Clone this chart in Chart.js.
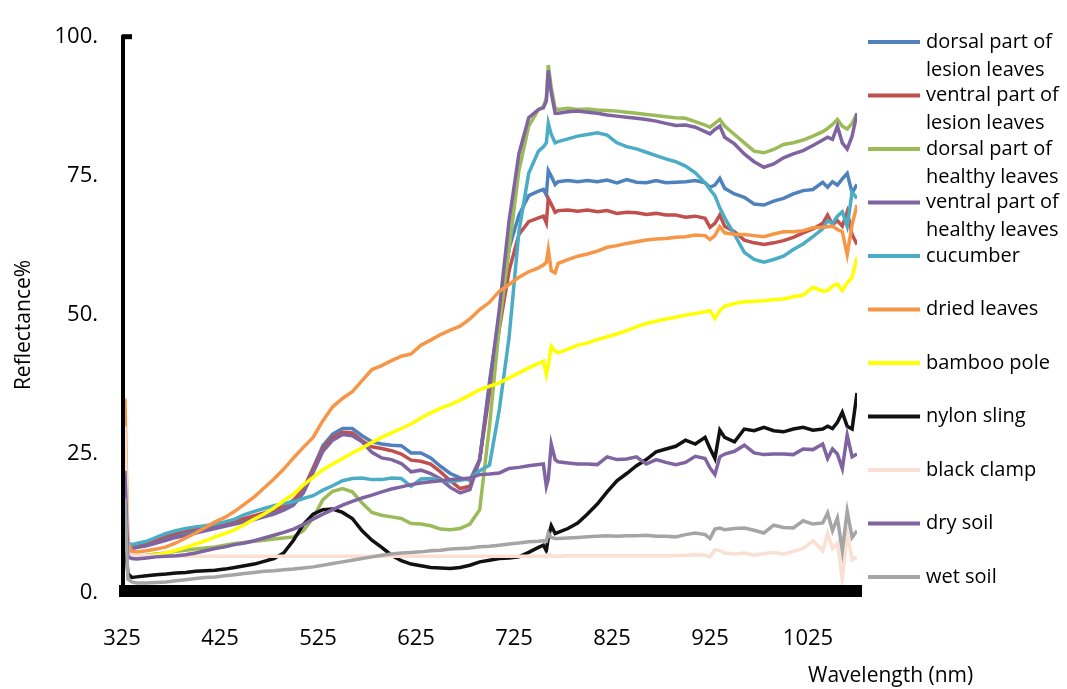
<!DOCTYPE html>
<html>
<head>
<meta charset="utf-8">
<script src="https://cdn.jsdelivr.net/npm/chart.js@4.4.1/dist/chart.umd.min.js"></script>
<style>
html,body{margin:0;padding:0;background:#fff;}
#wrap{width:1067px;height:689px;position:relative;}
</style>
</head>
<body>
<div id="wrap"><canvas id="c" width="1067" height="689"></canvas></div>
<script>
// Wavelengths (nm)
const wavelengths = [325,328,331,335,340,
 350,360,370,380,390,400,410,420,430,440,450,
 460,470,480,490,500,510,520,530,540,550,
 560,570,580,590,600,610,620,630,640,650,
 660,670,680,690,700,710,720,730,740,750,
 755,758,760,763,767,770,
 780,790,800,810,820,830,840,850,860,870,
 880,890,900,910,920,925,930,935,940,
 950,960,970,980,990,1000,1010,1020,1030,1040,
 1045,1050,1055,1060,1065,1070,1075];

const xTicks = [325,425,525,625,725,825,925,1025];
const yTicks = [0,25,50,75,100];

const dorsalLesion = [12,18,9,8.5,8.6,
 9,9.5,10,10.5,11,11.3,11.6,12,12.3,12.7,13.2,
 13.7,14.2,14.8,15.5,16.5,18.5,22.5,26.5,28.6,29.6,
 29.6,28.3,27.2,26.8,26.6,26.5,25.2,25.2,24.3,22.8,
 21.5,20.7,20.3,24,38,50,62,68,71.5,72.3,
 72.6,71.6,76,75,73.5,74,
 74.2,74,74.2,74,74.3,73.8,74.4,73.9,73.8,74.2,
 73.8,73.9,74,74.2,73.8,73,73.4,74.6,72.8,
 71.8,71.2,70,69.8,70.5,71,71.8,72.4,72.6,73.9,
 73,74,73.4,74.5,75.5,72,73.5];

const ventralLesion = [10,16,8.8,8.3,8.5,
 9,9.6,10.3,10.8,11.3,11.7,12,12.3,12.6,13,13.4,
 13.9,14.4,15,15.7,16.7,18.6,22.3,26,28,28.9,
 28.8,27.4,26.3,26,25.6,25,23.9,23.7,23.2,21.8,
 20.2,18.8,19.2,24,36,47.5,58,64.5,66.8,67.5,
 67.8,66.6,71,70,68.5,68.8,
 68.9,68.7,68.9,68.6,68.8,68.3,68.5,68.4,68.1,68.3,
 68,68,67.6,67.8,67.4,65.8,66.5,68,66,
 65,63.5,63,62.7,63,63.4,64,64.8,65.5,66.5,
 68,66.3,67,66,68.6,64.5,62.7];

const dorsalHealthy = [9,14,7,6.5,6.7,
 6.8,7,7.2,7.5,7.7,7.9,8.1,8.3,8.6,8.9,9.1,
 9.3,9.5,9.7,9.9,10.1,11.2,13.5,16.8,18.3,18.8,
 18.2,16.2,14.5,14,13.7,13.4,12.5,12.4,12.1,11.5,
 11.4,11.6,12.4,15,30,48,62,76,84,87,
 87.5,89,95,91,87.2,87,
 87.2,87,87.1,86.9,86.8,86.7,86.5,86.3,86.1,85.9,
 85.7,85.5,85.4,84.8,84.2,83.8,84.5,85.2,84,
 82.5,81,79.5,79.2,79.8,80.7,81,81.5,82.2,83,
 83.6,84.3,85.2,84,83.5,84.5,86.3];

const ventralHealthy = [10,17,8.4,8,8.2,
 8.5,9,9.5,10,10.4,10.8,11.2,11.6,12,12.4,12.8,
 13.2,13.7,14.2,14.9,15.8,18,21.7,25.5,27.5,28.5,
 28.3,27.2,25.3,24.3,24,23.3,21.8,22.1,21.5,20.5,
 19,18,18.6,24,37.3,51,67,79,85.5,87,
 87.3,88.5,94,90,86.3,86.3,
 86.6,86.7,86.5,86.3,86,85.8,85.6,85.4,85.2,84.9,
 84.5,84.1,84.2,83.8,83,82.6,83.4,84,82,
 80.8,79,77.6,76.6,77.2,78.3,79,79.6,80.5,81.5,
 82,81.6,84,81,79.9,82.2,86.3];

const cucumber = [10,15,9,8.7,8.9,
 9.3,10,10.7,11.2,11.6,11.9,12.1,12.4,12.8,13.3,14.1,
 14.7,15.2,15.7,16.1,16.4,17,17.5,18.5,19.3,20.2,
 20.6,20.7,20.4,20.4,20.7,20.6,19.2,20.5,20.6,20.3,
 20,20.3,20.6,22,23,33,46,65,75.5,79.5,
 80.3,81,84.5,82.5,81,81.2,
 81.7,82.2,82.5,82.8,82.4,81,80.3,79.9,79.3,78.7,
 78.1,77.6,76.8,75.6,73.8,72.6,71.5,69.3,67.5,
 64.5,61.3,60,59.5,60,60.6,61.8,62.8,64.1,65.5,
 67,66.5,67.8,68.6,66,72.1,71];

const driedLeaves = [15,35,9,7.5,7.4,
 7.6,7.9,8.3,9,9.9,10.8,11.8,12.8,13.6,14.7,16,
 17.3,18.9,20.5,22.3,24.3,26.2,28,31,33.5,35,
 36.2,38.2,40.2,40.9,41.8,42.6,43,44.6,45.5,46.5,
 47.3,48,49.3,51,52.3,54.3,55.5,56.8,57.8,58.5,
 59,59.5,61.8,58,57.6,59.3,
 60,60.6,61,61.5,62.2,62.5,62.9,63.2,63.5,63.7,
 63.8,64,64.1,64.4,64.3,63.6,64.3,65.9,64.8,
 64.5,64.5,64.3,64.1,64.6,65,65,65.2,65.7,65.8,
 65.9,66,65.4,65,60.9,66.3,69.8];

const bambooPole = [8,14,6.8,6.4,6.5,
 6.7,6.9,7.2,7.7,8.2,8.8,9.4,10.1,10.7,11.4,12.3,
 13.3,14.2,15.3,16.6,17.8,19.4,20.8,22.2,23.2,24.2,
 25.2,26.1,27.1,28,28.8,29.6,30.4,31.5,32.4,33.2,
 33.9,34.7,35.6,36.6,37.2,37.8,38.7,39.6,40.5,41.3,
 41.7,39.3,41,44.4,43.5,43.2,
 43.9,44.6,45,45.6,46.1,46.6,47.2,47.9,48.5,48.9,
 49.3,49.6,50,50.3,50.6,50.8,49.4,50.8,51.6,
 52.1,52.4,52.5,52.6,52.8,52.9,53.3,53.6,55,54.3,
 54.4,55.2,55.6,54.4,55.8,56.8,60.4];

const nylonSling = [45,10,3.5,2.8,2.9,
 3.1,3.3,3.4,3.6,3.7,3.9,4,4.1,4.3,4.6,4.9,
 5.2,5.7,6.2,7.2,9.5,12.3,14.2,15,15.1,14.5,
 13.4,11.2,9.5,8.2,6.8,5.8,5.2,4.9,4.6,4.5,
 4.4,4.6,5,5.6,5.9,6.2,6.3,6.5,7.3,8.2,
 8.6,7.6,10,12.1,10.7,10.9,
 11.6,12.6,14.2,16,18.2,20.2,21.5,22.9,24,25.4,
 25.9,26.4,27.5,26.8,28,26,24.2,29.3,28,
 27.2,29.5,29.2,29.8,29.2,29,29.5,29.8,29.3,29.5,
 30,29.6,30.7,32.5,30,29.5,36];

const blackClamp = [15,30,7,6.8,6.7,
 6.7,6.6,6.6,6.6,6.6,6.6,6.6,6.6,6.6,6.6,6.6,
 6.6,6.6,6.6,6.6,6.6,6.6,6.6,6.6,6.6,6.6,
 6.6,6.6,6.6,6.6,6.6,6.6,6.6,6.6,6.6,6.6,
 6.6,6.6,6.6,6.6,6.6,6.6,6.6,6.6,6.6,6.6,
 6.6,6.5,7,6.6,6.6,6.6,
 6.7,6.7,6.7,6.7,6.7,6.7,6.7,6.7,6.7,6.7,
 6.7,6.7,6.8,6.9,6.8,6.5,7.8,7.6,7.2,
 7,7.2,6.8,7.1,7.3,7,7.5,8,9.4,7.6,
 10.7,8,9,2.5,10.7,6,6.4];

const drySoil = [12,22,6.5,6.2,6.1,
 6.3,6.5,6.6,6.7,6.9,7.2,7.6,8,8.3,8.7,9,
 9.4,9.9,10.4,10.9,11.5,12.3,13.3,14.2,15,15.8,
 16.5,17.1,17.6,18.2,18.7,19.1,19.5,19.8,20,20.2,
 20.4,20.5,20.7,21.3,21.4,21.6,22.4,22.6,22.9,23.1,
 23.2,19.2,20.5,26.8,24,23.6,
 23.4,23.2,23.2,23.1,24.5,24,24.1,24.5,23.2,24,
 23.5,23.1,23.5,24.6,24.2,22.5,21.3,24.5,25,
 25.5,26.6,25.2,24.9,25,25,24.9,25.9,25.8,26.8,
 24.2,25.9,25,22.4,28.4,24.5,25];

const wetSoil = [10,17,2.5,2,1.8,
 1.8,1.9,2,2.2,2.4,2.6,2.8,2.9,3.1,3.3,3.5,
 3.7,3.9,4,4.2,4.3,4.5,4.7,5,5.3,5.6,
 5.9,6.2,6.5,6.8,7,7.2,7.3,7.4,7.6,7.7,
 7.9,8,8.1,8.3,8.4,8.6,8.8,9,9.2,9.3,
 9.4,9.3,10.8,10,9.8,9.8,
 9.9,10,10.1,10.2,10.3,10.2,10.3,10.3,10.4,10.2,
 10.2,10.1,10.5,10.8,10.5,9.8,11.5,11.7,11.4,
 11.6,11.7,11.3,10.8,12.2,11.8,11.7,13,12.4,12.6,
 14.4,11.2,13.5,7.6,14.7,10,11.2];

const seriesNames = [
 ["dorsal part of","lesion leaves"],
 ["ventral part of","lesion leaves"],
 ["dorsal part of","healthy leaves"],
 ["ventral part of","healthy leaves"],
 ["cucumber"],
 ["dried leaves"],
 ["bamboo pole"],
 ["nylon sling"],
 ["black clamp"],
 ["dry soil"],
 ["wet soil"]
];
const seriesValues = [dorsalLesion, ventralLesion, dorsalHealthy, ventralHealthy, cucumber,
  driedLeaves, bambooPole, nylonSling, blackClamp, drySoil, wetSoil];
const seriesColors = ["#4F81BD","#C0504D","#9BBB59","#8064A2","#4BACC6",
  "#F79646","#FFFF00","#111111","#FADFD3","#8064A2","#A5A5A5"];

const FONT = "'Open Sans', 'Liberation Sans', sans-serif";

const datasets = seriesValues.map((vals, i) => ({
  label: seriesNames[i].join(' '),
  data: wavelengths.map((w, j) => ({x: w, y: vals[j]})),
  borderColor: seriesColors[i],
  backgroundColor: seriesColors[i],
  borderWidth: 3.5,
  pointRadius: 0,
  tension: 0,
  fill: false,
  order: seriesValues.length - i
}));

const decorations = {
  id: 'decorations',
  afterDatasetsDraw(chart) {
    const ctx = chart.ctx;
    const ca = chart.chartArea;
    const yS = chart.scales.y;
    ctx.save();
    ctx.fillStyle = '#000';
    const top = yS.getPixelForValue(100);
    ctx.fillRect(ca.left - 1, top - 2, 4, ca.bottom + 4 - (top - 2));
    ctx.fillRect(ca.left, top - 3, 10, 5);
    ctx.fillRect(ca.left - 3, ca.bottom - 8, ca.right - ca.left + 8, 12);
    ctx.restore();
  },
  afterDraw(chart) {
    const ctx = chart.ctx;
    ctx.save();
    const x0 = 868, x1 = 920, tx = 926;
    let y = 42;
    ctx.font = '20px ' + FONT;
    ctx.textBaseline = 'middle';
    ctx.textAlign = 'left';
    chart.data.datasets.forEach((ds, i) => {
      ctx.strokeStyle = ds.borderColor;
      ctx.lineWidth = 4;
      ctx.beginPath();
      ctx.moveTo(x0, y);
      ctx.lineTo(x1, y);
      ctx.stroke();
      ctx.fillStyle = '#000';
      seriesNames[i].forEach((t, k) => ctx.fillText(t, tx, y + k * 28));
      y += 53.5;
    });
    ctx.font = '21px ' + FONT;
    ctx.fillText('Wavelength (nm)', 808, 676);
    ctx.translate(24, 325);
    ctx.rotate(-Math.PI / 2);
    ctx.textAlign = 'center';
    ctx.fillText('Reflectance%', 0, 0);
    ctx.restore();
  }
};

new Chart(document.getElementById('c'), {
  type: 'line',
  data: { datasets },
  options: {
    responsive: false,
    animation: false,
    layout: { padding: { left: 0, right: 210, top: 27, bottom: 0 } },
    plugins: { legend: { display: false }, tooltip: { enabled: false } },
    scales: {
      x: {
        type: 'linear',
        min: 325, max: 1075,
        afterBuildTicks: s => { s.ticks = xTicks.map(v => ({value: v})); },
        afterFit: s => { s.height = 689 - 593; },
        grid: { display: false, drawTicks: false },
        border: { display: false },
        ticks: { color: '#000', font: { family: FONT, size: 22 }, padding: 33, maxRotation: 0, autoSkip: false, callback: v => String(v) }
      },
      y: {
        min: 0, max: 100,
        afterBuildTicks: s => { s.ticks = yTicks.map(v => ({value: v})); },
        afterFit: s => { s.width = 122; },
        grid: { display: false, drawTicks: false },
        border: { display: false },
        ticks: { color: '#000', font: { family: FONT, size: 22 }, padding: 24, callback: v => v + '.' }
      }
    }
  },
  plugins: [decorations]
});
</script>
</body>
</html>
